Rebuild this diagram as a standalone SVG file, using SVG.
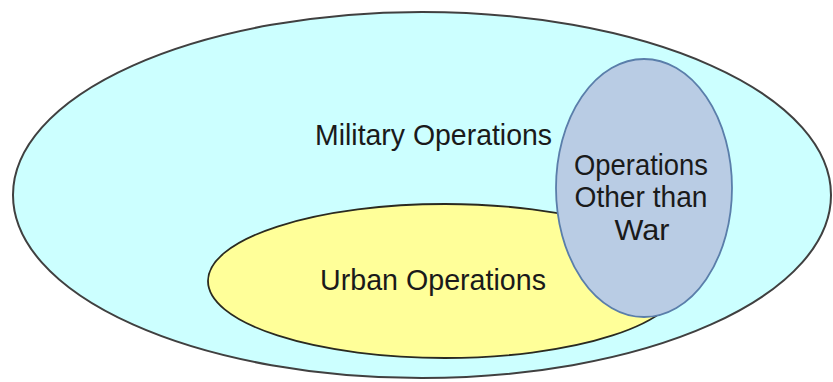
<svg xmlns="http://www.w3.org/2000/svg" width="833" height="382" viewBox="0 0 833 382">
<style>
.lbl{font-family:"Liberation Sans",Arial,sans-serif;font-size:30px;fill:#1a1a1a;text-anchor:middle}
</style>
<rect width="833" height="382" fill="#ffffff"/>
<g id="military">
<ellipse cx="422" cy="195" rx="409" ry="183" fill="#ccffff" stroke="#404040" stroke-width="2"/>
<text class="lbl" x="433.5" y="145" textLength="237" lengthAdjust="spacingAndGlyphs">Military Operations</text>
</g>
<g id="urban">
<ellipse cx="445" cy="281" rx="237" ry="77" fill="#ffff99" stroke="#2a2a20" stroke-width="1.8"/>
<text class="lbl" x="433" y="290" textLength="226" lengthAdjust="spacingAndGlyphs">Urban Operations</text>
</g>
<g id="ootw">
<ellipse cx="644" cy="188" rx="88" ry="129" fill="#b9cce4" stroke="#5a7eaa" stroke-width="1.8"/>
<text class="lbl" x="641" y="175" textLength="134" lengthAdjust="spacingAndGlyphs">Operations</text>
<text class="lbl" x="641" y="207" textLength="133" lengthAdjust="spacingAndGlyphs">Other than</text>
<text class="lbl" x="642" y="240" textLength="55" lengthAdjust="spacingAndGlyphs">War</text>
</g>
<g id="connectors"/>
</svg>
